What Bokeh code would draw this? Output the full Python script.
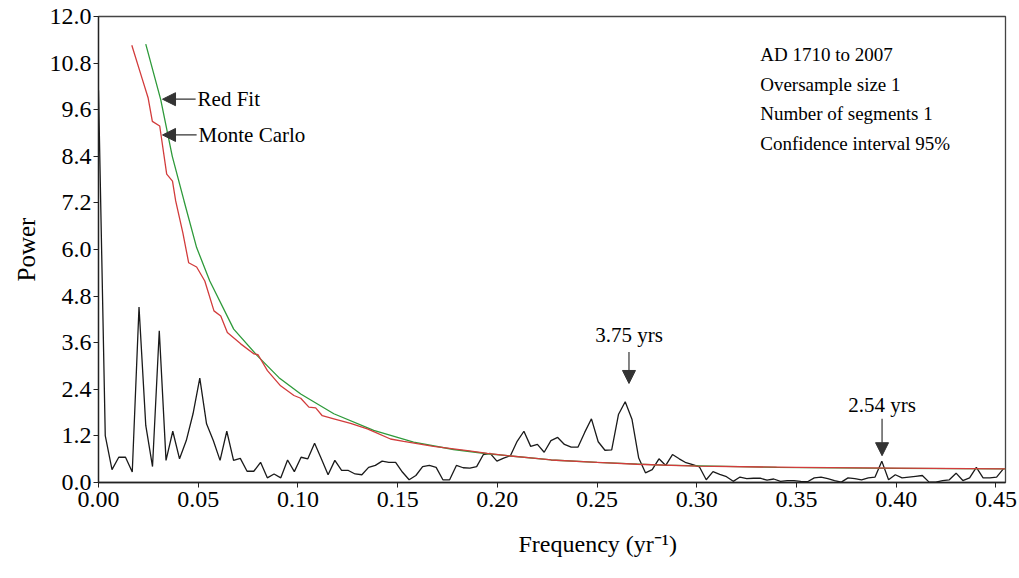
from bokeh.plotting import figure
from bokeh.models import Arrow, NormalHead, Label, Title, FixedTicker, NumeralTickFormatter
from bokeh.embed import file_html
from bokeh.resources import INLINE

# ---------------- data ----------------
freq_step = 0.003386          # spectral resolution (yr^-1)
power = [10.1, 1.21, 0.33, 0.65, 0.65, 0.27, 4.52, 1.47, 0.41, 3.91,
         0.57, 1.32, 0.61, 1.08, 1.77, 2.69, 1.51, 1.08, 0.57, 1.32,
         0.57, 0.62, 0.29, 0.29, 0.52, 0.12, 0.22, 0.12, 0.58, 0.28,
         0.65, 0.61, 1.01, 0.61, 0.20, 0.57, 0.31, 0.31, 0.22, 0.20,
         0.39, 0.44, 0.55, 0.52, 0.52, 0.27, 0.07, 0.18, 0.41, 0.44,
         0.39, 0.07, 0.07, 0.44, 0.38, 0.37, 0.41, 0.72, 0.75, 0.55,
         0.63, 0.69, 1.06, 1.32, 0.93, 0.98, 0.78, 1.08, 1.16, 0.98,
         0.91, 0.91, 1.29, 1.64, 1.05, 0.83, 0.84, 1.75, 2.08, 1.63,
         0.63, 0.25, 0.33, 0.61, 0.44, 0.72, 0.61, 0.51, 0.46, 0.40,
         0.07, 0.28, 0.21, 0.15, 0.03, 0.14, 0.10, 0.11, 0.11, 0.06,
         0.09, 0.03, 0.05, 0.05, 0.03, 0.02, 0.12, 0.14, 0.10, 0.05,
         0.01, 0.12, 0.10, 0.07, 0.12, 0.14, 0.55, 0.07, 0.20, 0.12,
         0.14, 0.16, 0.18, 0.01, 0.01, 0.05, 0.07, 0.24, 0.05, 0.12,
         0.39, 0.12, 0.12, 0.14, 0.35]
freq = [i * freq_step for i in range(len(power))]

redfit_f = [0.0237, 0.0312, 0.0370, 0.0429, 0.0492, 0.0558, 0.0678, 0.0797,
            0.0905, 0.1014, 0.1180, 0.1380, 0.1580, 0.1780, 0.1950, 0.2270,
            0.2500, 0.2830, 0.3400, 0.4000, 0.4548]
redfit_p = [11.29, 9.86, 8.40, 7.25, 6.05, 5.19, 3.95, 3.26,
            2.70, 2.28, 1.77, 1.34, 1.04, 0.85, 0.74, 0.58,
            0.52, 0.45, 0.39, 0.365, 0.35]

mc_f = [0.0167, 0.0220, 0.0249, 0.0270, 0.0307, 0.0342, 0.0371, 0.0387,
        0.0423, 0.0452, 0.0492, 0.0533, 0.0579, 0.0613, 0.0646, 0.0713,
        0.0780, 0.0800, 0.0847, 0.0913, 0.0980, 0.1014, 0.1055, 0.1089,
        0.1122, 0.1180, 0.1264, 0.1348, 0.1380, 0.1464, 0.1530, 0.1680,
        0.1850, 0.1950, 0.2050, 0.2180, 0.2270, 0.2500, 0.2700, 0.3000,
        0.3500, 0.4000, 0.4548]
mc_p = [11.26, 10.38, 9.90, 9.30, 9.18, 7.94, 7.76, 7.25,
        6.43, 5.66, 5.55, 5.19, 4.42, 4.29, 3.86, 3.57,
        3.31, 3.29, 2.88, 2.49, 2.24, 2.17, 1.94, 1.92,
        1.72, 1.64, 1.52, 1.38, 1.31, 1.12, 1.06, 0.93,
        0.82, 0.75, 0.69, 0.63, 0.58, 0.52, 0.47, 0.42,
        0.39, 0.37, 0.35]

x_ticks = [0.00, 0.05, 0.10, 0.15, 0.20, 0.25, 0.30, 0.35, 0.40, 0.45]
y_ticks = [0.0, 1.2, 2.4, 3.6, 4.8, 6.0, 7.2, 8.4, 9.6, 10.8, 12.0]

info_lines = ["AD 1710 to 2007", "Oversample size 1",
              "Number of segments 1", "Confidence interval 95%"]

FONT = "Liberation Serif"

p = figure(width=1019, height=578, x_range=(0, 0.4548), y_range=(0, 12),
           output_backend="svg", toolbar_location=None,
           min_border_left=98, min_border_right=14,
           min_border_top=16, min_border_bottom=96)

p.grid.visible = False
p.background_fill_color = "white"
p.border_fill_color = "white"
p.outline_line_color = "#444444"
p.outline_line_width = 1.3

for ax in (p.xaxis[0], p.yaxis[0]):
    ax.axis_line_color = "#222222"
    ax.axis_line_width = 1.3
    ax.major_tick_line_color = "#222222"
    ax.major_tick_out = 5
    ax.major_tick_in = 0
    ax.minor_tick_line_color = None
    ax.major_label_text_font = FONT
    ax.major_label_text_font_size = "24px"
    ax.major_label_text_color = "black"

p.xaxis.ticker = FixedTicker(ticks=x_ticks)
p.xaxis.formatter = NumeralTickFormatter(format="0.00")
p.yaxis.ticker = FixedTicker(ticks=y_ticks)
p.yaxis.formatter = NumeralTickFormatter(format="0.0")
p.xaxis.major_label_standoff = 4
p.yaxis.major_label_standoff = 2

# axis titles as side titles so they can sit off-centre like the original
p.add_layout(Title(text="Frequency (yr\u207b\u00b9)", align="left", offset=420,
                   standoff=38, text_font=FONT, text_font_size="24px",
                   text_font_style="normal", text_color="black"), "below")
p.add_layout(Title(text="Power", align="center", standoff=14,
                   text_font=FONT, text_font_size="25px",
                   text_font_style="normal", text_color="black"), "left")

p.line(freq, power, line_color="#1a1a1a", line_width=1.3)
p.line(redfit_f, redfit_p, line_color="#2e9a3a", line_width=1.3)
p.line(mc_f, mc_p, line_color="#d23c3c", line_width=1.3)


def arrow(x0, y0, x1, y1):
    p.add_layout(Arrow(end=NormalHead(size=13, fill_color="#333333", line_color="#333333"),
                       x_start=x0, y_start=y0, x_end=x1, y_end=y1,
                       line_color="#333333", line_width=1.2))


def label(x, y, text, align="left", size="20px"):
    p.add_layout(Label(x=x, y=y, text=text, text_font=FONT, text_font_size=size,
                       text_align=align, text_baseline="middle", text_color="black"))


arrow(0.0487, 9.87, 0.0321, 9.87)
label(0.0497, 9.87, "Red Fit", size="21px")
arrow(0.0492, 8.95, 0.0321, 8.95)
label(0.0502, 8.95, "Monte Carlo", size="21px")

arrow(0.266, 3.36, 0.266, 2.55)
label(0.266, 3.80, "3.75 yrs", align="center", size="21px")
arrow(0.3929, 1.64, 0.3929, 0.69)
label(0.3929, 1.99, "2.54 yrs", align="center", size="21px")

for i, t in enumerate(info_lines):
    label(0.3318, 11.02 - i * 0.76, t, size="19px")

open("out.html", "w").write(file_html(p, INLINE))
